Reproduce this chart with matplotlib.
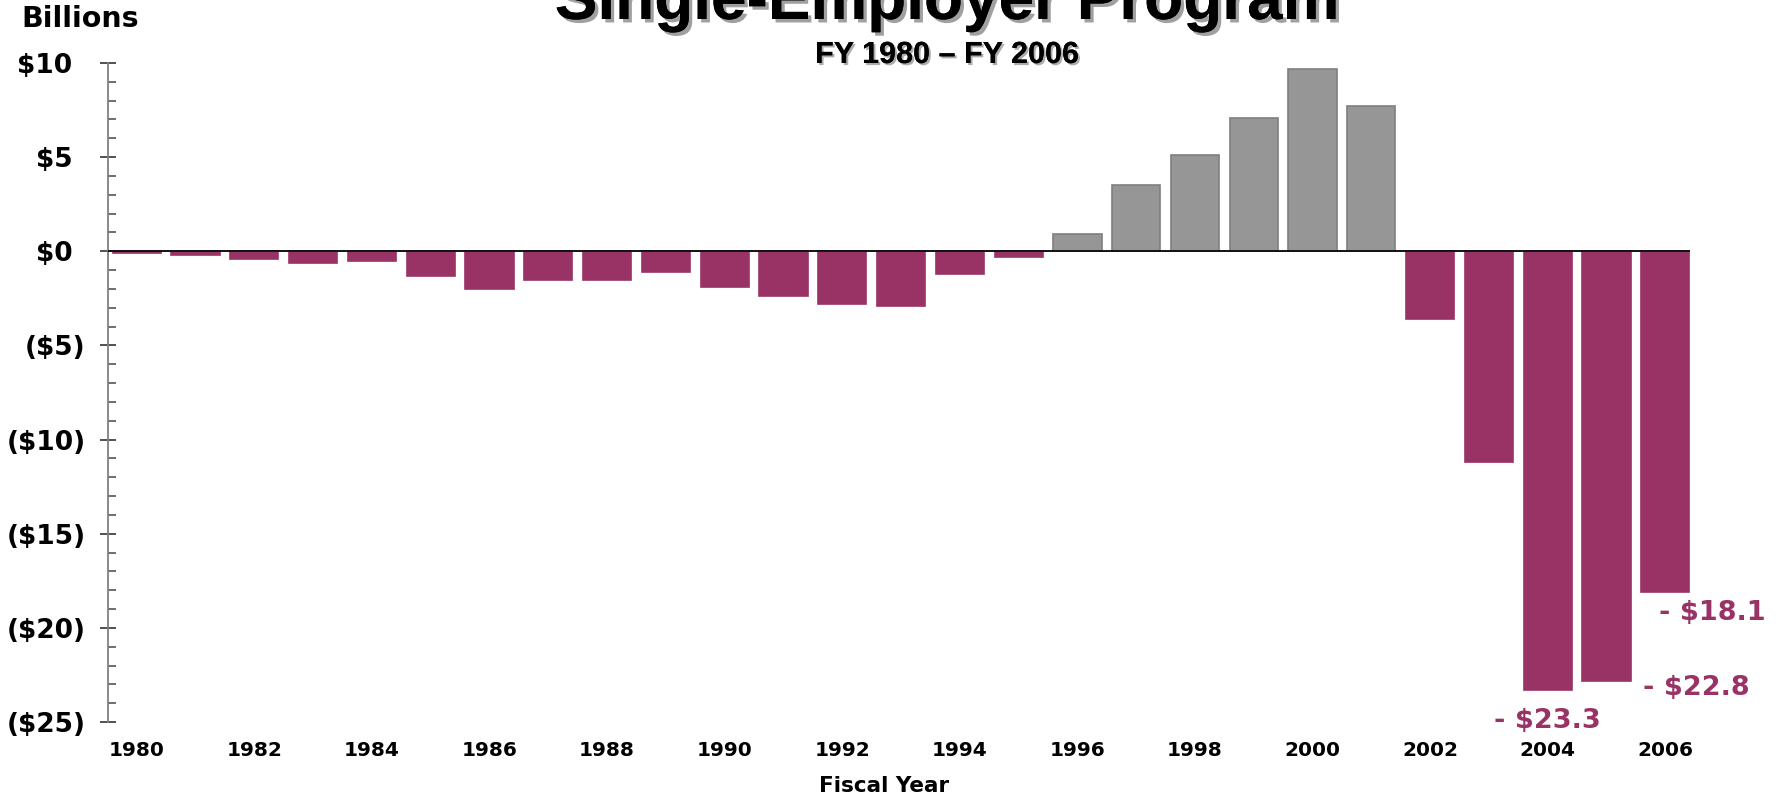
import matplotlib.pyplot as plt
import matplotlib.patheffects as pe
from matplotlib.ticker import MultipleLocator, FuncFormatter

# net position of the single-employer program, $ billions
years = list(range(1980, 2007))
values = [-0.1, -0.2, -0.4, -0.6, -0.5, -1.3, -2.0, -1.5, -1.5, -1.1,
          -1.9, -2.4, -2.8, -2.9, -1.2, -0.3, 0.9, 3.5, 5.1, 7.1,
          9.7, 7.7, -3.6, -11.2, -23.3, -22.8, -18.1]
year_ticks = list(range(1980, 2007, 2))
labelled_years = [2004, 2005, 2006]
label_offsets = [(0, -22), (65, -5), (34, -15)]  # points from the bar end

maroon = '#993366'
grey = '#969696'

fig = plt.figure(figsize=(17.78, 7.97), dpi=100)
ax = fig.add_axes([108 / 1778, 1 - 722 / 797, (1690 - 108) / 1778, (722 - 63) / 797])

colors = [grey if v > 0 else maroon for v in values]
edges = ['#7f7f7f' if v > 0 else maroon for v in values]
ax.bar(years, values, width=0.82, color=colors, edgecolor=edges, linewidth=1.2, zorder=2)
ax.axhline(0, color='#111111', lw=1.4, zorder=3)

ax.set_xlim(1979.51, 2006.42)
ax.set_ylim(-25, 10)

for s in ['top', 'right', 'bottom']:
    ax.spines[s].set_visible(False)
ax.spines['left'].set_color('#808080')
ax.spines['left'].set_linewidth(1.3)

ax.yaxis.set_major_locator(MultipleLocator(5))
ax.yaxis.set_minor_locator(MultipleLocator(1))
ax.yaxis.set_major_formatter(FuncFormatter(
    lambda v, p: f'${v:.0f}\u2002' if v >= 0 else f'(${-v:.0f})'))
ax.tick_params(axis='y', which='major', direction='inout', length=12, width=1.2,
               color='#333333', pad=10, labelsize=19)
ax.tick_params(axis='y', which='minor', direction='in', length=6, width=1.2, color='#555555')
for t in ax.get_yticklabels():
    t.set_fontweight('bold')

ax.set_xticks(year_ticks)
ax.set_xticklabels([str(y) for y in year_ticks], fontsize=14.5, fontweight='bold')
ax.tick_params(axis='x', length=0, pad=14)

for yr, off in zip(labelled_years, label_offsets):
    v = values[years.index(yr)]
    ax.annotate(f'- ${abs(v):.1f}', xy=(yr, v), xytext=off, textcoords='offset points',
                ha='center', va='center', fontsize=19.5, fontweight='bold', color=maroon)

shadow = [pe.withSimplePatchShadow(offset=(2.5, -2.5), shadow_rgbFace='#888888', alpha=0.8),
          pe.Normal()]
fig.text(947 / 1778, 1 - 19 / 797, 'Single-Employer Program', ha='center', va='baseline',
         fontsize=46, fontweight='bold', family='Liberation Sans', path_effects=shadow)
fig.text(947 / 1778, 1 - 63 / 797, 'FY 1980 \u2013 FY 2006', ha='center', va='baseline',
         fontsize=22, fontweight='bold', family='Liberation Sans',
         path_effects=[pe.withSimplePatchShadow(offset=(1.5, -1.5), shadow_rgbFace='#999999',
                                                alpha=0.8), pe.Normal()])
fig.text(21 / 1778, 1 - 27 / 797, 'Billions', ha='left', va='baseline',
         fontsize=20.5, fontweight='bold')
fig.text(884 / 1778, 1 - 792 / 797, 'Fiscal Year', ha='center', va='baseline',
         fontsize=15.5, fontweight='bold')

fig.savefig('out.png', dpi=100)
